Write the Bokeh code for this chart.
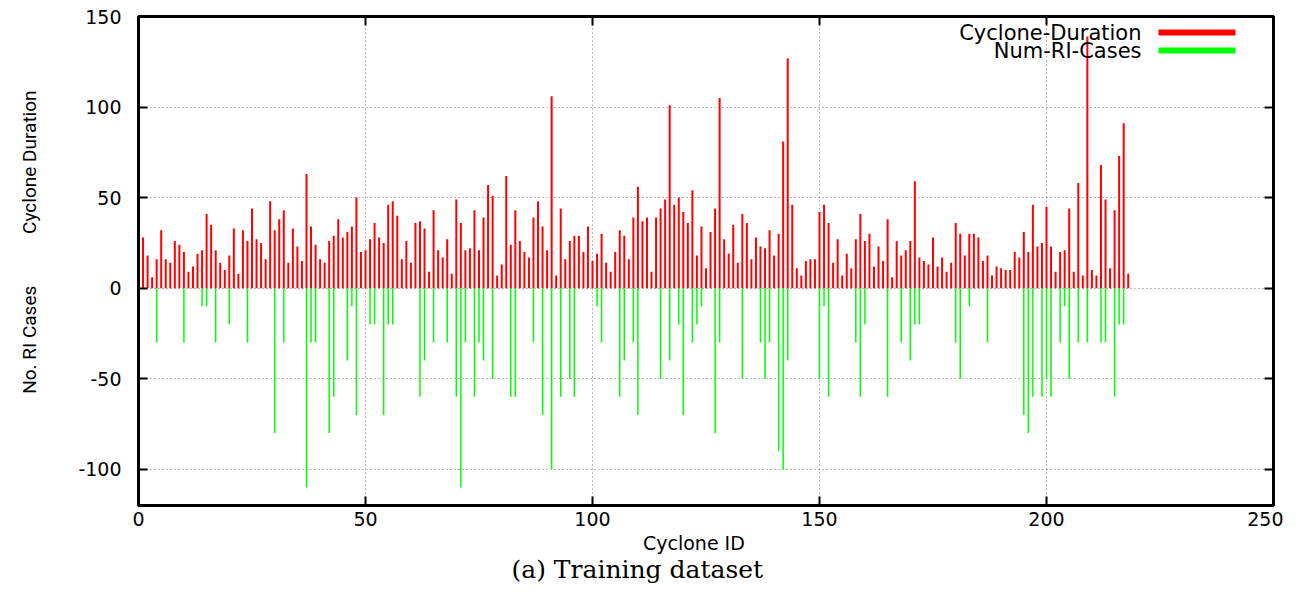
import math
from bokeh.plotting import figure
from bokeh.models import (ColumnDataSource, Range1d, FixedTicker, LinearAxis,
                          Label, BoxAnnotation, Title)
from bokeh.embed import file_html
from bokeh.resources import INLINE

# ---- data ----
cyclone_duration = [
    28, 18, 6, 16, 32, 16, 14, 26, 24, 20, 9, 12, 19, 21, 41, 35, 21, 14, 10, 18,
    33, 8, 32, 26, 44, 27, 25, 16, 48, 32, 38, 43, 14, 33, 23, 15, 63, 34, 24, 16,
    14, 26, 29, 38, 28, 31, 34, 50, 20, 21, 27, 36, 28, 25, 46, 48, 40, 16, 26, 14,
    36, 37, 33, 9, 43, 21, 17, 27, 8, 49, 36, 21, 22, 43, 21, 39, 57, 51, 7, 13,
    62, 24, 43, 26, 20, 17, 39, 48, 34, 21, 106, 7, 44, 16, 26, 29, 29, 20, 34, 15,
    19, 30, 14, 9, 20, 32, 29, 16, 39, 56, 37, 39, 9, 39, 44, 49, 101, 46, 50, 42,
    36, 54, 18, 34, 11, 31, 44, 105, 27, 19, 35, 14, 41, 36, 16, 28, 23, 22, 32, 18,
    30, 81, 127, 46, 11, 7, 15, 16, 16, 42, 46, 36, 14, 27, 7, 19, 11, 27, 41, 26,
    30, 12, 23, 15, 38, 6, 26, 18, 21, 26, 59, 17, 15, 13, 28, 12, 17, 9, 14, 36,
    30, 18, 30, 30, 28, 15, 18, 7, 12, 11, 10, 10, 20, 17, 31, 20, 46, 23, 25, 45,
    23, 9, 20, 21, 44, 9, 58, 7, 139, 10, 7, 68, 49, 11, 43, 73, 91, 8,
]
cyclone_ids = list(range(1, len(cyclone_duration) + 1))

ri_ids = [4, 10, 14, 15, 17, 20, 24, 30, 32, 37, 38, 39, 42, 43, 46, 47, 48, 51, 52,
          54, 55, 56, 62, 63, 65, 68, 70, 71, 72, 74, 75, 76, 78, 82, 83, 87, 89,
          91, 93, 95, 96, 101, 102, 106, 107, 109, 110, 115, 117, 119, 120, 122,
          123, 124, 127, 128, 133, 137, 138, 139, 141, 142, 143, 150, 151, 152,
          158, 159, 160, 165, 168, 170, 171, 172, 180, 181, 183, 187, 195, 196,
          197, 199, 200, 201, 203, 204, 205, 207, 209, 212, 213, 215, 216, 217]
ri_cases = [-30, -30, -10, -10, -30, -20, -30, -80, -30, -110, -30, -30, -80, -60,
            -40, -10, -70, -20, -20, -70, -20, -20, -60, -40, -30, -30, -60, -110,
            -30, -60, -30, -40, -50, -60, -60, -30, -70, -100, -60, -50, -60, -10,
            -30, -60, -40, -30, -70, -50, -40, -20, -70, -30, -20, -10, -80, -30,
            -50, -30, -50, -30, -90, -100, -40, -50, -10, -60, -30, -60, -20, -60,
            -30, -40, -20, -20, -30, -50, -10, -30, -70, -80, -60, -60, -50, -60,
            -30, -10, -50, -30, -30, -30, -30, -60, -20, -20]

x_ticks = [0, 50, 100, 150, 200, 250]
y_ticks = [-100, -50, 0, 50, 100, 150]
y_tick_labels = {-100: "-100", -50: "-50", 0: "0", 50: "50", 100: "100", 150: "150"}

series_names = ["Cyclone-Duration", "Num-RI-Cases"]
series_colors = ["#ff0000", "#00ff00"]
y_title_top = "Cyclone Duration"
y_title_bottom = "No. RI Cases"
x_title = "Cyclone ID"
caption = "(a) Training dataset"

NB = "\u00a0"

# ---- figure ----
p = figure(width=1283, height=585, output_backend="svg", toolbar_location=None,
           x_range=Range1d(0, 250), y_range=Range1d(-120, 150),
           min_border_left=138, min_border_right=10, min_border_top=16,
           min_border_bottom=80)
p.background_fill_color = "white"
p.border_fill_color = "white"
p.outline_line_color = "black"
p.outline_line_width = 3

dur_src = ColumnDataSource(dict(x=cyclone_ids, y=cyclone_duration,
                                z=[0] * len(cyclone_ids)))
ri_src = ColumnDataSource(dict(x=ri_ids, y=ri_cases, z=[0] * len(ri_ids)))

p.segment(x0="x", y0="z", x1="x", y1="y", source=dur_src,
          line_color=series_colors[0], line_width=2)
p.segment(x0="x", y0="z", x1="x", y1="y", source=ri_src,
          line_color=series_colors[1], line_width=1.5)

tick_font = "DejaVu Sans"
for ax in (p.xaxis[0], p.yaxis[0]):
    ax.axis_line_color = None
    ax.major_tick_in = 9
    ax.major_tick_out = 0
    ax.major_tick_line_width = 2
    ax.major_tick_line_color = "black"
    ax.minor_tick_line_color = None
    ax.major_label_text_font = tick_font
    ax.major_label_text_font_size = "19px"
    ax.major_label_text_color = "black"
p.xaxis[0].ticker = FixedTicker(ticks=x_ticks)
p.yaxis[0].ticker = FixedTicker(ticks=y_ticks)
p.yaxis[0].major_label_overrides = y_tick_labels
p.xaxis[0].major_label_standoff = 6
p.yaxis[0].major_label_standoff = 17

# x-axis title (padded so that it sits slightly left of centre, as in the reference)
p.xaxis[0].axis_label = x_title + NB * 4
p.xaxis[0].axis_label_text_font = tick_font
p.xaxis[0].axis_label_text_font_size = "19px"
p.xaxis[0].axis_label_text_font_style = "normal"
p.xaxis[0].axis_label_text_color = "black"
p.xaxis[0].axis_label_standoff = 3

# y-axis titles: both on one vertical line
p.yaxis[0].axis_label = NB * 8 + y_title_bottom + NB * 11 + y_title_top
p.yaxis[0].axis_label_text_font = "Roboto"
p.yaxis[0].axis_label_text_font_size = "19px"
p.yaxis[0].axis_label_text_font_style = "normal"
p.yaxis[0].axis_label_text_color = "black"
p.yaxis[0].axis_label_standoff = 34

# mirrored ticks on top and right
top_ax = LinearAxis(ticker=FixedTicker(ticks=x_ticks),
                    major_label_overrides={t: "" for t in x_ticks})
right_ax = LinearAxis(ticker=FixedTicker(ticks=y_ticks),
                      major_label_overrides={t: "" for t in y_ticks})
for ax in (top_ax, right_ax):
    ax.axis_line_color = None
    ax.major_tick_in = 9
    ax.major_tick_out = 0
    ax.major_tick_line_width = 2
    ax.minor_tick_line_color = None
    ax.major_label_standoff = 0
p.add_layout(top_ax, "above")
p.add_layout(right_ax, "right")

p.xgrid.ticker = FixedTicker(ticks=x_ticks)
p.ygrid.ticker = FixedTicker(ticks=y_ticks)
for g in (p.xgrid[0], p.ygrid[0]):
    g.grid_line_color = "#777777"
    g.grid_line_dash = "1 3"
    g.grid_line_width = 1

# caption below the plot
p.add_layout(Title(text=caption, align="left", offset=373,
                   text_font="DejaVu Serif", text_font_size="25px",
                   text_font_style="normal", text_color="black",
                   standoff=-8), "below")

# legend (text left, line sample right)
for i, (name, col) in enumerate(zip(series_names, series_colors)):
    yc = 473 - 18 * i
    p.add_layout(Label(x=1003, y=yc, x_units="screen", y_units="screen",
                       text=name, text_align="right", text_baseline="middle",
                       text_font=tick_font, text_font_size="21px",
                       text_color="black"))
    p.add_layout(BoxAnnotation(left=1020, right=1097, bottom=yc - 3, top=yc + 3,
                               left_units="screen", right_units="screen",
                               bottom_units="screen", top_units="screen",
                               fill_color=col, fill_alpha=1, line_color=None))

open("out.html", "w").write(file_html(p, INLINE))
